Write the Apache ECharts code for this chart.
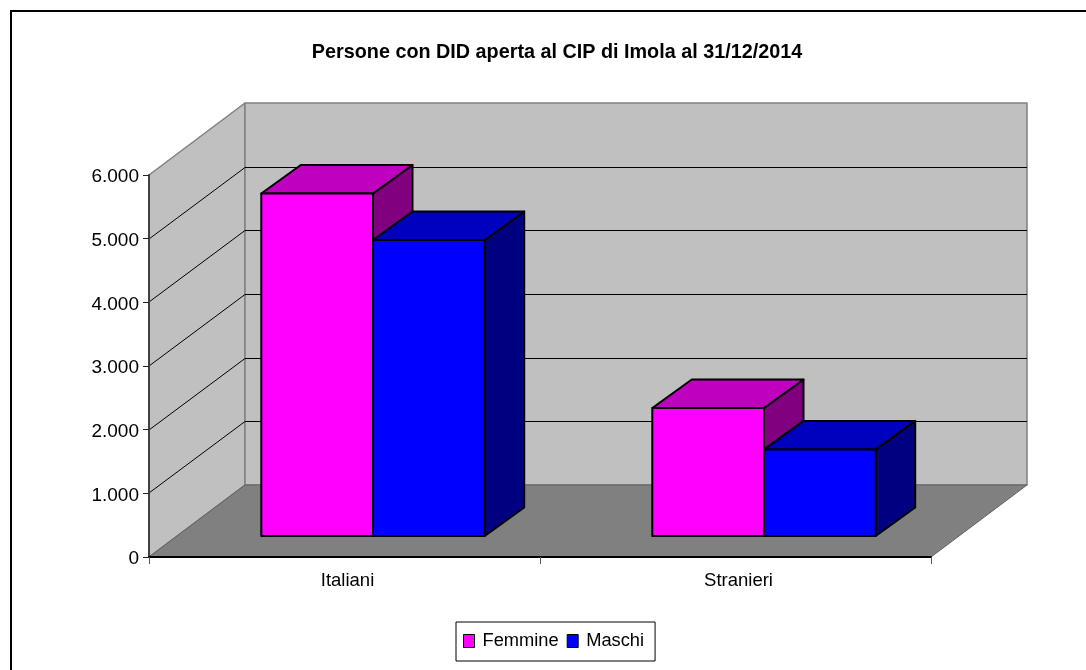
<!DOCTYPE html>
<html><head><meta charset="utf-8">
<style>html,body{margin:0;padding:0;background:#fff}#c{width:1086px;height:670px}</style>
<script src="https://cdn.jsdelivr.net/npm/echarts@6/dist/echarts.min.js"></script>
</head><body><div id="c"></div>
<script>
const titleText = 'Persone con DID aperta al CIP di Imola al 31/12/2014';
const categories = ['Italiani', 'Stranieri'];
const femmine = [5380, 2010];
const maschi = [4650, 1360];
const gridValues = [1000, 2000, 3000, 4000, 5000];
const FONT = '"Liberation Sans", Arial, sans-serif';
const WALL_DX = 96, WALL_DY = -72;      // 3D projection of the full depth
const BAR_OFF_DX = 28.5, BAR_OFF_DY = -21; // depth of the bars' front plane
const BAR_DX = 39.5, BAR_DY = -28.5;      // depth of a bar

function poly(points, fill, stroke, lineWidth) {
  return { type: 'polygon', shape: { points }, style: { fill, stroke, lineWidth, lineJoin: 'round' } };
}
function wallsItem(params, api) {
  const r = params.coordSys;
  const y0 = api.coord([0, 0])[1], yT = r.y, xL = r.x, xR = r.x + r.width;
  return { type: 'group', children: [
    poly([[xL, y0], [xL, yT], [xL + WALL_DX, yT + WALL_DY], [xL + WALL_DX, y0 + WALL_DY]], '#C0C0C0', '#808080', 1.5),
    poly([[xL + WALL_DX, yT + WALL_DY], [xR + WALL_DX, yT + WALL_DY], [xR + WALL_DX, y0 + WALL_DY], [xL + WALL_DX, y0 + WALL_DY]], '#C0C0C0', '#808080', 1.5),
    poly([[xL, y0], [xR, y0], [xR + WALL_DX, y0 + WALL_DY], [xL + WALL_DX, y0 + WALL_DY]], '#808080', '#606060', 1)
  ]};
}
function gridItem(params, api) {
  const r = params.coordSys;
  const y = Math.round(api.coord([0, api.value(0)])[1]);
  return { type: 'polyline', shape: { points: [[r.x, y], [r.x + WALL_DX, y + WALL_DY + 0.5], [r.x + r.width + WALL_DX, y + WALL_DY + 0.5]] },
    style: { fill: null, stroke: '#000', lineWidth: 1 } };
}
function barItem(sign, front, top, side) {
  return function (params, api) {
    const c = api.coord([api.value(0), 0]);
    const t = api.coord([api.value(0), api.value(1)]);
    const w = api.size([1, 0])[0] / 3.5;
    const xa = c[0] + BAR_OFF_DX + (sign < 0 ? -w : 0), xb = xa + w;
    const yb = c[1] + BAR_OFF_DY, yt = t[1] + BAR_OFF_DY;
    return { type: 'group', children: [
      poly([[xb, yt], [xb + BAR_DX, yt + BAR_DY], [xb + BAR_DX, yb + BAR_DY], [xb, yb]], side, '#000', 2),
      poly([[xa, yt], [xa + BAR_DX, yt + BAR_DY], [xb + BAR_DX, yt + BAR_DY], [xb, yt]], top, '#000', 2),
      poly([[xa, yt], [xb, yt], [xb, yb], [xa, yb]], front, '#000', 2)
    ]};
  };
}
const chart = echarts.init(document.getElementById('c'), null, { renderer: 'canvas' });
chart.setOption({
  animation: false,
  backgroundColor: '#fff',
  title: { text: titleText, left: 552, top: 38, textAlign: 'center',
    textStyle: { fontFamily: FONT, fontSize: 19.8, fontWeight: 'bold', color: '#000' } },
  legend: { data: [
      { name: 'Femmine', icon: 'rect', itemStyle: { color: '#FF00FF', borderColor: '#000', borderWidth: 1 } },
      { name: 'Maschi', icon: 'rect', itemStyle: { color: '#0000FF', borderColor: '#000', borderWidth: 1 } }],
    left: 456, top: 622, orient: 'horizontal', padding: [10, 11, 11, 7], itemGap: 8, itemWidth: 11, itemHeight: 13,
    selectedMode: false, backgroundColor: '#fff', borderColor: '#000', borderWidth: 1,
    textStyle: { fontFamily: FONT, fontSize: 18.3, color: '#000', padding: [0, 0, 0, 3] } },
  grid: { left: 149, right: 155, top: 175, bottom: 113 },
  xAxis: { type: 'category', data: categories, z: 10,
    axisLine: { lineStyle: { color: '#000', width: 2 } },
    axisTick: { show: true, length: 7, lineStyle: { color: '#555', width: 1 } },
    axisLabel: { fontFamily: FONT, fontSize: 18.5, color: '#000', margin: 14, padding: [0, 0, 0, 6] } },
  yAxis: { type: 'value', min: 0, max: 6000, interval: 1000, z: 10,
    splitLine: { show: false },
    axisLine: { show: true, lineStyle: { color: '#404040', width: 2 } },
    axisTick: { show: true, length: 6, lineStyle: { color: '#222', width: 1 } },
    axisLabel: { fontFamily: FONT, fontSize: 19, color: '#000', margin: 10, verticalAlign: 'top', lineHeight: 4,
      formatter: v => String(v).replace(/\B(?=(\d{3})+$)/g, '.') } },
  graphic: [{ type: 'rect', silent: true, z: 100, shape: { x: 11, y: 11, width: 2000, height: 2000 },
    style: { fill: null, stroke: '#000', lineWidth: 2 } }],
  series: [
    { type: 'custom', name: 'pareti', z: 1, silent: true, data: [[0]], renderItem: wallsItem, encode: { x: [], y: [] } },
    { type: 'custom', name: 'griglia', z: 2, silent: true, data: gridValues.map(v => [v]), renderItem: gridItem, encode: { x: [], y: 0 } },
    { type: 'custom', name: 'Femmine', z: 3, itemStyle: { color: '#FF00FF' },
      data: femmine.map((v, i) => [i, v]), encode: { x: 0, y: 1 },
      renderItem: barItem(-1, '#FF00FF', '#BF00BF', '#800080') },
    { type: 'custom', name: 'Maschi', z: 3, itemStyle: { color: '#0000FF' },
      data: maschi.map((v, i) => [i, v]), encode: { x: 0, y: 1 },
      renderItem: barItem(1, '#0000FF', '#0000BF', '#000080') }
  ]
});
</script></body></html>
